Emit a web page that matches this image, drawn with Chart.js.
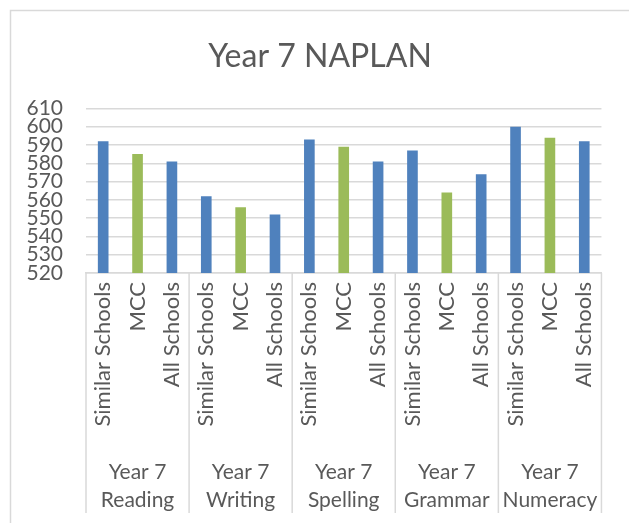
<!DOCTYPE html>
<html>
<head>
<meta charset="utf-8">
<script src="https://cdn.jsdelivr.net/npm/chart.js@4.4.1/dist/chart.umd.min.js"></script>
<style>
  html, body { margin: 0; padding: 0; background: #fff; }
</style>
</head>
<body>
<canvas id="naplan" width="629" height="523"></canvas>
<script>
// NAPLAN domains (two-line group labels) and the three bars in each group
const domains = [['Year 7', 'Reading'], ['Year 7', 'Writing'], ['Year 7', 'Spelling'], ['Year 7', 'Grammar'], ['Year 7', 'Numeracy']];
const schools = ['Similar Schools', 'MCC', 'All Schools'];

// mean scores per domain
const similarSchools = [592, 562, 593, 587, 600];
const mcc            = [585, 556, 589, 564, 594];
const allSchools     = [581, 552, 581, 574, 592];

const yTicks = [520, 530, 540, 550, 560, 570, 580, 590, 600, 610];

const blue = '#4f81bd';
const green = '#9bbb59';
const txt = '#595959';
const line = '#d9d9d9';
const font = 'Lato';

// flatten into 15 bars: Similar, MCC, All for each domain
const labels = [], values = [], colors = [];
domains.forEach((d, i) => {
  labels.push(...schools);
  values.push(similarSchools[i], mcc[i], allSchools[i]);
  colors.push(blue, green, blue);
});

// outer chart border + vertical separators of the grouped category axis
const frame = {
  id: 'frame',
  afterDraw(chart) {
    const ctx = chart.ctx, a = chart.chartArea;
    const x = chart.scales.x, x2 = chart.scales.x2;
    ctx.save();
    ctx.strokeStyle = line;
    ctx.lineWidth = 1.5;
    ctx.beginPath();
    ctx.moveTo(10.5, 523); ctx.lineTo(10.5, 10.5); ctx.lineTo(629, 10.5);
    ctx.stroke();
    ctx.beginPath();
    for (let g = 0; g <= domains.length; g++) {
      let px;
      if (g === 0) px = a.left;
      else if (g === domains.length) px = a.right;
      else px = (x.getPixelForTick(g * 3 - 1) + x.getPixelForTick(g * 3)) / 2;
      ctx.moveTo(px, a.bottom);
      ctx.lineTo(px, x2.bottom);
    }
    ctx.stroke();
    ctx.restore();
  }
};

new Chart(document.getElementById('naplan'), {
  type: 'bar',
  data: {
    labels: labels,
    datasets: [{
      data: values,
      backgroundColor: colors,
      borderColor: colors,
      borderWidth: 0,
      barPercentage: 0.62,
      categoryPercentage: 0.5
    }]
  },
  options: {
    responsive: false,
    animation: false,
    layout: { padding: { top: 10, left: 21, right: 10, bottom: 10 } },
    plugins: {
      legend: { display: false },
      tooltip: { enabled: false },
      title: {
        display: true,
        text: 'Year 7 NAPLAN',
        color: txt,
        font: { family: font, size: 32, weight: 'normal', lineHeight: 1.2 },
        padding: { top: 27, bottom: 33 }
      }
    },
    scales: {
      y: {
        min: 520,
        max: 610,
        afterBuildTicks: s => { s.ticks = yTicks.map(v => ({ value: v })); },
        afterFit: s => { s.width = 65; },
        border: { display: false },
        grid: { color: line, lineWidth: 1.5, drawTicks: false },
        ticks: { autoSkip: false, color: txt, padding: 23, font: { family: font, size: 21 } }
      },
      // empty spacer on the right so the title centres like the original
      yRight: {
        position: 'right',
        min: 520,
        max: 610,
        afterFit: s => { s.width = 12; },
        border: { display: false },
        grid: { display: false, drawTicks: false },
        ticks: { display: false }
      },
      x: {
        afterFit: s => { s.height = 157; },
        border: { display: true, color: line, width: 1.5 },
        grid: { display: false, drawTicks: false },
        ticks: {
          autoSkip: false, minRotation: 90, maxRotation: 90, padding: 9,
          color: txt, font: { family: font, size: 22 }
        }
      },
      x2: {
        type: 'category',
        labels: domains,
        position: 'bottom',
        offset: true,
        afterFit: s => { s.height = 83; },
        border: { display: false },
        grid: { display: false, drawTicks: false },
        ticks: {
          autoSkip: false, maxRotation: 0, minRotation: 0, padding: 29,
          color: txt, font: { family: font, size: 21, lineHeight: 1.3 }
        }
      }
    }
  },
  plugins: [frame]
});
</script>
</body>
</html>
